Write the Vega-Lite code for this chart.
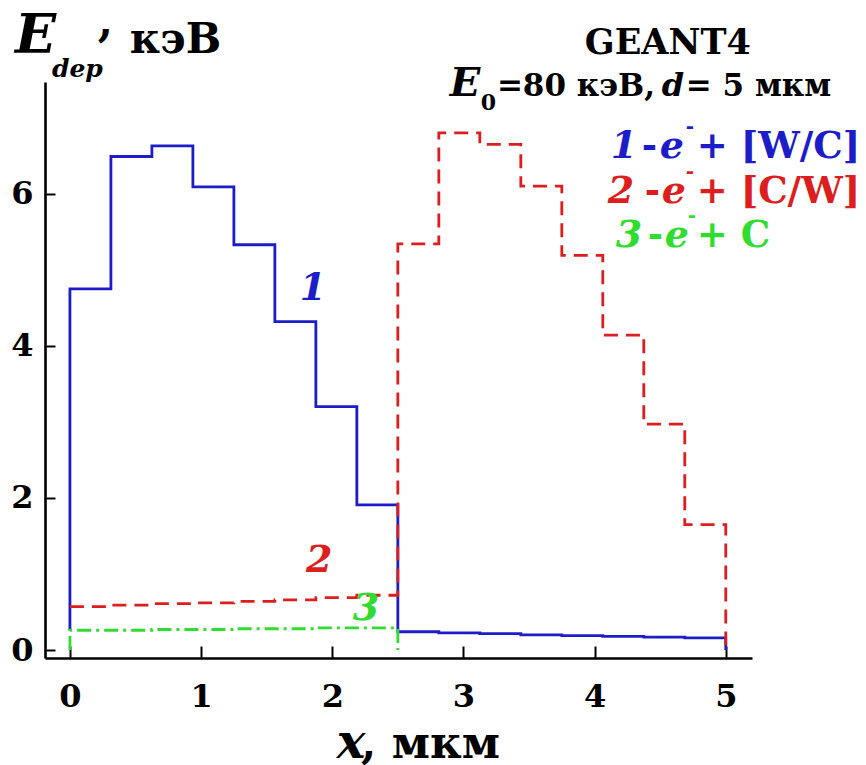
{
  "$schema": "https://vega.github.io/schema/vega-lite/v6.json",
  "width": 707,
  "height": 576,
  "autosize": {"type": "none"},
  "padding": {"left": 45, "top": 82, "right": 114, "bottom": 107},
  "background": "white",
  "config": {"view": {"stroke": null}, "font": "DejaVu Serif"},
  "datasets": {
    "hist": [
      {"series": "1", "x": 0, "y": 0.26},
      {"series": "1", "x": 0, "y": 4.75},
      {"series": "1", "x": 0.3125, "y": 6.49},
      {"series": "1", "x": 0.625, "y": 6.63},
      {"series": "1", "x": 0.9375, "y": 6.09},
      {"series": "1", "x": 1.25, "y": 5.33},
      {"series": "1", "x": 1.5625, "y": 4.32},
      {"series": "1", "x": 1.875, "y": 3.2},
      {"series": "1", "x": 2.1875, "y": 1.91},
      {"series": "1", "x": 2.5, "y": 0.24},
      {"series": "1", "x": 2.8125, "y": 0.225},
      {"series": "1", "x": 3.125, "y": 0.215},
      {"series": "1", "x": 3.4375, "y": 0.2},
      {"series": "1", "x": 3.75, "y": 0.19},
      {"series": "1", "x": 4.0625, "y": 0.18},
      {"series": "1", "x": 4.375, "y": 0.17},
      {"series": "1", "x": 4.6875, "y": 0.16},
      {"series": "1", "x": 5, "y": 0.16},
      {"series": "1", "x": 5, "y": 0},
      {"series": "2", "x": 0, "y": 0.57},
      {"series": "2", "x": 0.3125, "y": 0.59},
      {"series": "2", "x": 0.625, "y": 0.61},
      {"series": "2", "x": 0.9375, "y": 0.62},
      {"series": "2", "x": 1.25, "y": 0.64},
      {"series": "2", "x": 1.5625, "y": 0.66},
      {"series": "2", "x": 1.875, "y": 0.69},
      {"series": "2", "x": 2.1875, "y": 0.72},
      {"series": "2", "x": 2.5, "y": 5.34},
      {"series": "2", "x": 2.8125, "y": 6.8},
      {"series": "2", "x": 3.125, "y": 6.65},
      {"series": "2", "x": 3.4375, "y": 6.1},
      {"series": "2", "x": 3.75, "y": 5.19},
      {"series": "2", "x": 4.0625, "y": 4.14},
      {"series": "2", "x": 4.375, "y": 2.97},
      {"series": "2", "x": 4.6875, "y": 1.65},
      {"series": "2", "x": 5, "y": 1.65},
      {"series": "2", "x": 5, "y": 0},
      {"series": "3", "x": 0, "y": 0},
      {"series": "3", "x": 0, "y": 0.26},
      {"series": "3", "x": 0.3125, "y": 0.26},
      {"series": "3", "x": 0.625, "y": 0.27},
      {"series": "3", "x": 0.9375, "y": 0.27},
      {"series": "3", "x": 1.25, "y": 0.28},
      {"series": "3", "x": 1.5625, "y": 0.28},
      {"series": "3", "x": 1.875, "y": 0.29},
      {"series": "3", "x": 2.1875, "y": 0.29},
      {"series": "3", "x": 2.5, "y": 0.29},
      {"series": "3", "x": 2.5, "y": 0}
    ]
  },
  "layer": [
    {
      "data": {"name": "hist"},
      "mark": {"type": "line", "interpolate": "step-after", "strokeWidth": 2.8, "clip": false},
      "encoding": {
        "x": {
          "field": "x", "type": "quantitative",
          "scale": {"domain": [-0.19, 5.2], "nice": false, "zero": false},
          "axis": {
            "values": [0, 1, 2, 3, 4, 5], "format": "d", "title": null, "grid": false,
            "domainColor": "black", "domainWidth": 2.6, "tickColor": "black", "tickWidth": 2,
            "tickSize": -12, "labelPadding": 35, "labelFont": "DejaVu Serif",
            "labelFontWeight": "bold", "labelFontSize": 32, "labelColor": "black", "labelFlush": false
          }
        },
        "y": {
          "field": "y", "type": "quantitative",
          "scale": {"domain": [-0.105, 7.47], "nice": false, "zero": false},
          "axis": {
            "values": [0, 2, 4, 6], "format": "d", "title": null, "grid": false,
            "domainColor": "black", "domainWidth": 2.6, "tickColor": "black", "tickWidth": 2,
            "tickSize": -10, "labelPadding": 22, "labelFont": "DejaVu Serif",
            "labelFontWeight": "bold", "labelFontSize": 32, "labelColor": "black", "labelFlush": false
          }
        },
        "color": {
          "field": "series", "type": "nominal",
          "scale": {"domain": ["1", "2", "3", "k"], "range": ["#1c1cc8", "#dc1e1e", "#30dc30", "#000000"]},
          "legend": null
        },
        "strokeDash": {
          "field": "series", "type": "nominal",
          "scale": {"domain": ["1", "2", "3"], "range": [[1, 0], [14, 8], [14, 5, 3, 5]]},
          "legend": null
        },
        "order": {"value": null}
      }
    },
    {
      "data": {"values": [
        {"t": "E", "x": -0.419, "y": 7.851, "series": "k"}
      ]},
      "mark": {"type": "text", "align": "left", "baseline": "alphabetic", "font": "DejaVu Serif", "fontStyle": "italic", "fontWeight": "bold", "fontSize": 54},
      "encoding": {
        "x": {"field": "x", "type": "quantitative"},
        "y": {"field": "y", "type": "quantitative"},
        "text": {"field": "t"},
        "color": {"field": "series", "type": "nominal", "legend": null}
      }
    },
    {
      "data": {"values": [
        {"t": "x", "x": 2.035, "y": -1.42, "series": "k"}
      ]},
      "mark": {"type": "text", "align": "left", "baseline": "alphabetic", "font": "DejaVu Serif", "fontStyle": "italic", "fontWeight": "bold", "fontSize": 48},
      "encoding": {
        "x": {"field": "x", "type": "quantitative"},
        "y": {"field": "y", "type": "quantitative"},
        "text": {"field": "t"},
        "color": {"field": "series", "type": "nominal", "legend": null}
      }
    },
    {
      "data": {"values": [
        {"t": "dep", "x": -0.137, "y": 7.535, "series": "k"}
      ]},
      "mark": {"type": "text", "align": "left", "baseline": "alphabetic", "font": "DejaVu Serif", "fontStyle": "italic", "fontWeight": "bold", "fontSize": 25},
      "encoding": {
        "x": {"field": "x", "type": "quantitative"},
        "y": {"field": "y", "type": "quantitative"},
        "text": {"field": "t"},
        "color": {"field": "series", "type": "nominal", "legend": null}
      }
    },
    {
      "data": {"values": [
        {"t": ",", "x": 0.213, "y": 8.07, "series": "k"},
        {"t": ", мкм", "x": 2.22, "y": -1.42, "series": "k"}
      ]},
      "mark": {"type": "text", "align": "left", "baseline": "alphabetic", "font": "DejaVu Serif", "fontWeight": "bold", "fontSize": 44},
      "encoding": {
        "x": {"field": "x", "type": "quantitative"},
        "y": {"field": "y", "type": "quantitative"},
        "text": {"field": "t"},
        "color": {"field": "series", "type": "nominal", "legend": null}
      }
    },
    {
      "data": {"values": [
        {"t": "кэВ", "x": 0.457, "y": 7.851, "series": "k"}
      ]},
      "mark": {"type": "text", "align": "left", "baseline": "alphabetic", "font": "DejaVu Serif", "fontWeight": "bold", "fontSize": 42},
      "encoding": {
        "x": {"field": "x", "type": "quantitative"},
        "y": {"field": "y", "type": "quantitative"},
        "text": {"field": "t"},
        "color": {"field": "series", "type": "nominal", "legend": null}
      }
    },
    {
      "data": {"values": [
        {"t": "GEANT4", "x": 3.925, "y": 7.838, "series": "k"}
      ]},
      "mark": {"type": "text", "align": "left", "baseline": "alphabetic", "font": "DejaVu Serif", "fontWeight": "bold", "fontSize": 35},
      "encoding": {
        "x": {"field": "x", "type": "quantitative"},
        "y": {"field": "y", "type": "quantitative"},
        "text": {"field": "t"},
        "color": {"field": "series", "type": "nominal", "legend": null}
      }
    },
    {
      "data": {"values": [
        {"t": "=80 кэВ,", "x": 3.255, "y": 7.286, "series": "k"},
        {"t": "= 5 мкм", "x": 4.695, "y": 7.286, "series": "k"}
      ]},
      "mark": {"type": "text", "align": "left", "baseline": "alphabetic", "font": "DejaVu Serif", "fontWeight": "bold", "fontSize": 31},
      "encoding": {
        "x": {"field": "x", "type": "quantitative"},
        "y": {"field": "y", "type": "quantitative"},
        "text": {"field": "t"},
        "color": {"field": "series", "type": "nominal", "legend": null}
      }
    },
    {
      "data": {"values": [
        {"t": "E", "x": 2.896, "y": 7.286, "series": "k"}
      ]},
      "mark": {"type": "text", "align": "left", "baseline": "alphabetic", "font": "DejaVu Serif", "fontStyle": "italic", "fontWeight": "bold", "fontSize": 40},
      "encoding": {
        "x": {"field": "x", "type": "quantitative"},
        "y": {"field": "y", "type": "quantitative"},
        "text": {"field": "t"},
        "color": {"field": "series", "type": "nominal", "legend": null}
      }
    },
    {
      "data": {"values": [
        {"t": "d", "x": 4.512, "y": 7.286, "series": "k"}
      ]},
      "mark": {"type": "text", "align": "left", "baseline": "alphabetic", "font": "DejaVu Serif", "fontStyle": "italic", "fontWeight": "bold", "fontSize": 32},
      "encoding": {
        "x": {"field": "x", "type": "quantitative"},
        "y": {"field": "y", "type": "quantitative"},
        "text": {"field": "t"},
        "color": {"field": "series", "type": "nominal", "legend": null}
      }
    },
    {
      "data": {"values": [
        {"t": "0", "x": 3.133, "y": 7.101, "series": "k"}
      ]},
      "mark": {"type": "text", "align": "left", "baseline": "alphabetic", "font": "DejaVu Serif", "fontWeight": "bold", "fontSize": 22},
      "encoding": {
        "x": {"field": "x", "type": "quantitative"},
        "y": {"field": "y", "type": "quantitative"},
        "text": {"field": "t"},
        "color": {"field": "series", "type": "nominal", "legend": null}
      }
    },
    {
      "data": {"values": [
        {"t": "1", "x": 4.123, "y": 6.47, "series": "1"},
        {"t": "e", "x": 4.497, "y": 6.47, "series": "1"},
        {"t": "2", "x": 4.1, "y": 5.879, "series": "2"},
        {"t": "e", "x": 4.512, "y": 5.879, "series": "2"},
        {"t": "3", "x": 4.161, "y": 5.3, "series": "3"},
        {"t": "e", "x": 4.535, "y": 5.3, "series": "3"},
        {"t": "1", "x": 1.753, "y": 4.603, "series": "1"},
        {"t": "2", "x": 1.799, "y": 1.026, "series": "2"},
        {"t": "3", "x": 2.157, "y": 0.395, "series": "3"}
      ]},
      "mark": {"type": "text", "align": "left", "baseline": "alphabetic", "font": "DejaVu Serif", "fontStyle": "italic", "fontWeight": "bold", "fontSize": 38},
      "encoding": {
        "x": {"field": "x", "type": "quantitative"},
        "y": {"field": "y", "type": "quantitative"},
        "text": {"field": "t"},
        "color": {"field": "series", "type": "nominal", "legend": null}
      }
    },
    {
      "data": {"values": [
        {"t": "-", "x": 4.36, "y": 6.47, "series": "1"},
        {"t": "+ [W/C]", "x": 4.779, "y": 6.47, "series": "1"},
        {"t": "-", "x": 4.383, "y": 5.879, "series": "2"},
        {"t": "+ [C/W]", "x": 4.779, "y": 5.879, "series": "2"},
        {"t": "-", "x": 4.405, "y": 5.3, "series": "3"},
        {"t": "+ C", "x": 4.779, "y": 5.3, "series": "3"}
      ]},
      "mark": {"type": "text", "align": "left", "baseline": "alphabetic", "font": "DejaVu Serif", "fontWeight": "bold", "fontSize": 37},
      "encoding": {
        "x": {"field": "x", "type": "quantitative"},
        "y": {"field": "y", "type": "quantitative"},
        "text": {"field": "t"},
        "color": {"field": "series", "type": "nominal", "legend": null}
      }
    },
    {
      "data": {"values": [
        {"t": "-", "x": 4.695, "y": 6.8, "series": "1"},
        {"t": "-", "x": 4.695, "y": 6.207, "series": "2"},
        {"t": "-", "x": 4.71, "y": 5.629, "series": "3"}
      ]},
      "mark": {"type": "text", "align": "left", "baseline": "alphabetic", "font": "DejaVu Serif", "fontWeight": "bold", "fontSize": 20},
      "encoding": {
        "x": {"field": "x", "type": "quantitative"},
        "y": {"field": "y", "type": "quantitative"},
        "text": {"field": "t"},
        "color": {"field": "series", "type": "nominal", "legend": null}
      }
    }
  ]
}
